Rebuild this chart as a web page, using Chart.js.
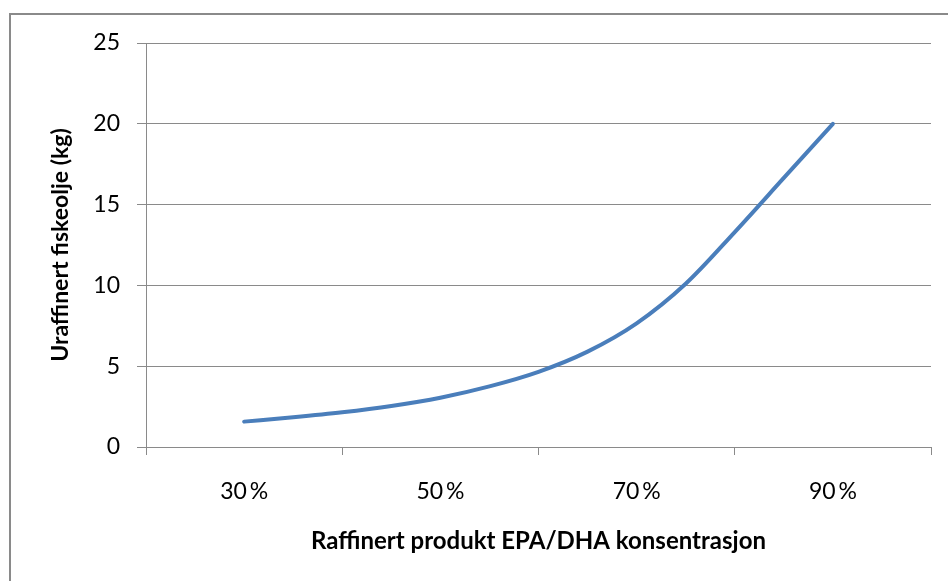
<!DOCTYPE html>
<html>
<head>
<meta charset="utf-8">
<script src="https://cdn.jsdelivr.net/npm/chart.js@4/dist/chart.umd.min.js"></script>
<style>
    body { margin: 0; background: #fff; }
    #wrap { position: relative; width: 948px; height: 581px; overflow: hidden; }
    #frame { position: absolute; left: 9px; top: 13px; width: 1000px; height: 700px; border: 2px solid #8a8a8a; }
    #chart { position: absolute; left: 0; top: 0; }
</style>
</head>
<body>
<div id="wrap">
    <div id="frame"></div>
    <canvas id="chart" width="948" height="581"></canvas>
</div>
<script>
// x = EPA/DHA concentration (%), y = unrefined fish oil (kg)
const concentrations = [30, 35, 40, 45, 50, 55, 60, 65, 70, 75, 80, 85, 90];
const fishOilKg = [1.57, 1.84, 2.15, 2.54, 3.05, 3.75, 4.65, 5.9, 7.65, 10.1, 13.3, 16.65, 20.0];
const xLabels = [30, 50, 70, 90];
const xTickMarks = [20, 40, 60, 80, 100];

const xTitle = 'Raffinert produkt EPA/DHA konsentrasjon';
const yTitle = 'Uraffinert fiskeolje (kg)';

const fontFamily = 'Lato, "Open Sans", sans-serif';
const axisGrey = '#8a8a8a';

Chart.defaults.font.family = fontFamily;
Chart.defaults.color = '#000';
Chart.defaults.animation = false;

const ctx = document.getElementById('chart');
const chart = new Chart(ctx,
    {
        type: 'line',
        data:
            {
                datasets: [
                    {
                        data: concentrations.map((c, i) => ({x: c, y: fishOilKg[i]})),
                        borderColor: '#4a7ebb',
                        borderWidth: 4,
                        borderCapStyle: 'round',
                        pointRadius: 0,
                        cubicInterpolationMode: 'monotone',
                        fill: false,
                    }
                ]
            },
        options:
            {
                responsive: false,
                layout: { padding: { left: 0, top: 43, right: 17, bottom: 0 } },
                plugins:
                    {
                        legend: { display: false },
                        tooltip: { enabled: false },
                    },
                scales:
                    {
                        x:
                            {
                                type: 'linear',
                                min: 20,
                                max: 100,
                                afterFit: (scale) => {
                                    scale.height = 134;
                                    scale.paddingLeft = 0;
                                    scale.paddingRight = 0;
                                },
                                afterBuildTicks: (scale) => {
                                    const values = xLabels.concat(xTickMarks).sort((a, b) => a - b);
                                    scale.ticks = values.map(v => ({value: v}));
                                },
                                border: { display: true, color: axisGrey, width: 1 },
                                grid:
                                    {
                                        drawOnChartArea: false,
                                        drawTicks: true,
                                        tickLength: 8,
                                        color: (c) => (c.tick && xTickMarks.includes(c.tick.value)) ? axisGrey : 'rgba(0,0,0,0)',
                                    },
                                ticks:
                                    {
                                        autoSkip: false,
                                        maxRotation: 0,
                                        padding: 23,
                                        font: { size: 23 },
                                        callback: (v) => xLabels.includes(v) ? v + '\u2009%' : '',
                                    },
                                title:
                                    {
                                        display: true,
                                        text: xTitle,
                                        font: { size: 24, weight: 'bold' },
                                        padding: { top: 0, bottom: 25 },
                                    }
                            },
                        y:
                            {
                                min: 0,
                                max: 25,
                                afterFit: (scale) => { scale.width = 146; },
                                border: { display: true, color: axisGrey, width: 1 },
                                grid:
                                    {
                                        color: axisGrey,
                                        lineWidth: 1,
                                        tickLength: 9,
                                    },
                                ticks:
                                    {
                                        stepSize: 5,
                                        padding: 17,
                                        font: { size: 23 },
                                    },
                                title:
                                    {
                                        display: true,
                                        text: yTitle,
                                        font: { size: 23, weight: 'bold' },
                                        padding: { top: 47, bottom: 0 },
                                    }
                            }
                    }
            }
    });
</script>
</body>
</html>
